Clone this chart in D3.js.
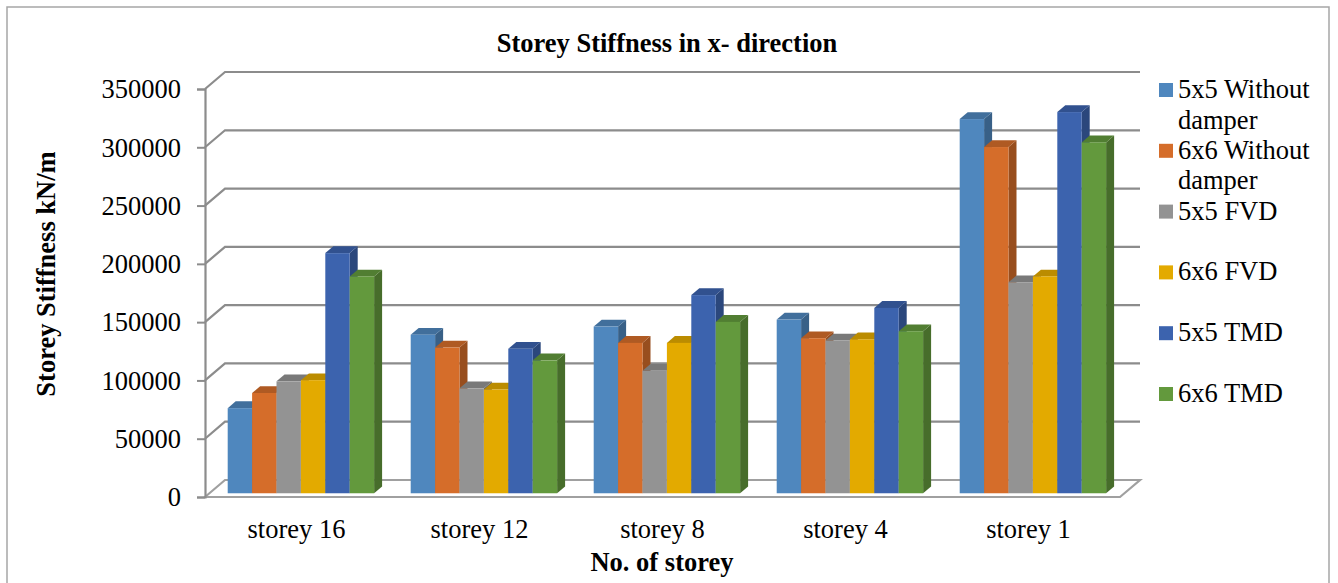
<!DOCTYPE html>
<html>
<head>
<meta charset="utf-8">
<script src="https://cdn.jsdelivr.net/npm/d3@7"></script>
<style>
  html, body { margin: 0; padding: 0; background: #fff; }
  svg { display: block; font-family: "Liberation Serif", "Times New Roman", serif; }
</style>
</head>
<body>
<svg id="chart" width="1338" height="583"></svg>
<script>
// Storey stiffness (kN/m) in x-direction for each model
const categories = ["storey 16", "storey 12", "storey 8", "storey 4", "storey 1"];
const seriesNames = ["5x5 Without damper", "6x6 Without damper", "5x5 FVD", "6x6 FVD", "5x5 TMD", "6x6 TMD"];
const withoutDamper5x5 = [73000, 136000, 143000, 149000, 321000];
const withoutDamper6x6 = [86000, 125000, 129000, 133000, 297000];
const fvd5x5 = [96000, 90000, 105000, 131000, 181000];
const fvd6x6 = [97000, 89000, 129000, 132000, 186000];
const tmd5x5 = [206000, 124000, 170000, 159000, 327000];
const tmd6x6 = [186000, 114000, 147000, 139000, 301000];
const yTicks = [0, 50000, 100000, 150000, 200000, 250000, 300000, 350000];
const colors = ["#4f87be", "#d56d2a", "#939393", "#e3aa00", "#3c63ae", "#63993d"];

const seriesValues = [withoutDamper5x5, withoutDamper6x6, fvd5x5, fvd6x6, tmd5x5, tmd6x6];

const svg = d3.select("#chart");

// plot frame (front-left corner of the floor and wall depth)
const plotLeft = 205, plotRight = 1120, plotBottom = 497, plotTop = 89;
const depthX = 20, depthY = 17;          // wall depth offset
const barF0 = 0.22, barF1 = 0.62;        // bar front/back as a fraction of depth
const gridColor = "#8c8c8c";

const x0 = d3.scaleBand().domain(categories).range([plotLeft, plotRight]).paddingInner(0.2).paddingOuter(0.1);
const x1 = d3.scaleBand().domain(d3.range(seriesNames.length)).range([0, x0.bandwidth()]);
const y = d3.scaleLinear().domain([0, 350000]).range([plotBottom, plotTop]);

// outer border
svg.append("rect").attr("x", 7).attr("y", 7).attr("width", 1322).attr("height", 600)
  .attr("fill", "none").attr("stroke", "#a6a6a6").attr("stroke-width", 1.5);

// title
svg.append("text").attr("x", 667).attr("y", 52).attr("text-anchor", "middle")
  .attr("font-weight", "bold").attr("font-size", 26.5).attr("fill", "#000")
  .text("Storey Stiffness in x- direction");

// back wall gridlines with the left diagonal
const grid = svg.append("g").attr("fill", "none").attr("stroke", gridColor).attr("stroke-width", 2.2);
yTicks.filter(t => t > 0).forEach(t => {
  const yy = y(t);
  grid.append("path").attr("d",
    `M${plotLeft},${yy} L${plotLeft + depthX},${yy - depthY} L${plotRight + depthX},${yy - depthY}`);
});

// floor
grid.append("path").attr("d",
  `M${plotLeft},${plotBottom} L${plotLeft + depthX},${plotBottom - depthY} L${plotRight + depthX},${plotBottom - depthY} L${plotRight},${plotBottom} Z`)
  .attr("stroke", "#a0a0a0");

// front vertical axis with ticks
const axis = d3.axisLeft(y).tickValues(yTicks).tickSize(8).tickFormat(d3.format("d"));
const axisG = svg.append("g").attr("transform", `translate(${plotLeft},0)`).call(axis);
axisG.select(".domain").attr("stroke", gridColor).attr("stroke-width", 2.2);
axisG.selectAll(".tick line").attr("stroke", gridColor).attr("stroke-width", 2);
axisG.selectAll(".tick text").attr("font-family", "Liberation Serif, serif")
  .attr("font-size", 26.5).attr("fill", "#000").attr("x", -24).attr("dy", "0.33em");

// bars drawn as 3D prisms
const bdx0 = depthX * barF0, bdy0 = depthY * barF0;
const bdx = depthX * (barF1 - barF0), bdy = depthY * (barF1 - barF0);
const bars = svg.append("g");
categories.forEach((cat, ci) => {
  seriesValues.forEach((vals, si) => {
    const v = vals[ci];
    const bx = x0(cat) + x1(si) + bdx0;
    const bw = x1.bandwidth();
    const base = y(0) - bdy0;
    const yt = y(v) - bdy0;
    const c = d3.color(colors[si]);
    const g = bars.append("g");
    // right side face
    g.append("path").attr("d",
      `M${bx + bw},${yt} L${bx + bw + bdx},${yt - bdy} L${bx + bw + bdx},${base - bdy} L${bx + bw},${base} Z`)
      .attr("fill", c.darker(0.95));
    // top face
    g.append("path").attr("d",
      `M${bx},${yt} L${bx + bdx},${yt - bdy} L${bx + bw + bdx},${yt - bdy} L${bx + bw},${yt} Z`)
      .attr("fill", c.darker(0.55));
    // front face
    g.append("rect").attr("x", bx).attr("y", yt).attr("width", bw).attr("height", base - yt)
      .attr("fill", c);
  });
});

// category labels
svg.append("g").selectAll("text").data(categories).join("text")
  .attr("x", d => x0(d) + x0.bandwidth() / 2).attr("y", 538)
  .attr("text-anchor", "middle").attr("font-size", 26.5).attr("fill", "#000")
  .text(d => d);

// axis titles
svg.append("text").attr("x", 662).attr("y", 571).attr("text-anchor", "middle")
  .attr("font-weight", "bold").attr("font-size", 26.5).attr("fill", "#000")
  .text("No. of storey");
svg.append("text").attr("transform", "translate(55,274) rotate(-90)")
  .attr("text-anchor", "middle").attr("font-weight", "bold").attr("font-size", 26.5).attr("fill", "#000")
  .text("Storey Stiffness kN/m");

// legend
const legendLines = [["5x5 Without", "damper"], ["6x6 Without", "damper"], ["5x5 FVD"], ["6x6 FVD"], ["5x5 TMD"], ["6x6 TMD"]];
const legend = svg.append("g");
seriesNames.forEach((name, i) => {
  const cy = 90 + i * 60.8;
  legend.append("rect").attr("x", 1159).attr("y", cy - 7).attr("width", 14).attr("height", 14)
    .attr("fill", colors[i]);
  const t = legend.append("text").attr("x", 1178).attr("y", cy + 8)
    .attr("font-size", 26.5).attr("fill", "#000");
  legendLines[i].forEach((ln, k) => {
    t.append("tspan").attr("x", 1178).attr("dy", k === 0 ? 0 : 30.5).text(ln);
  });
});
</script>
</body>
</html>
